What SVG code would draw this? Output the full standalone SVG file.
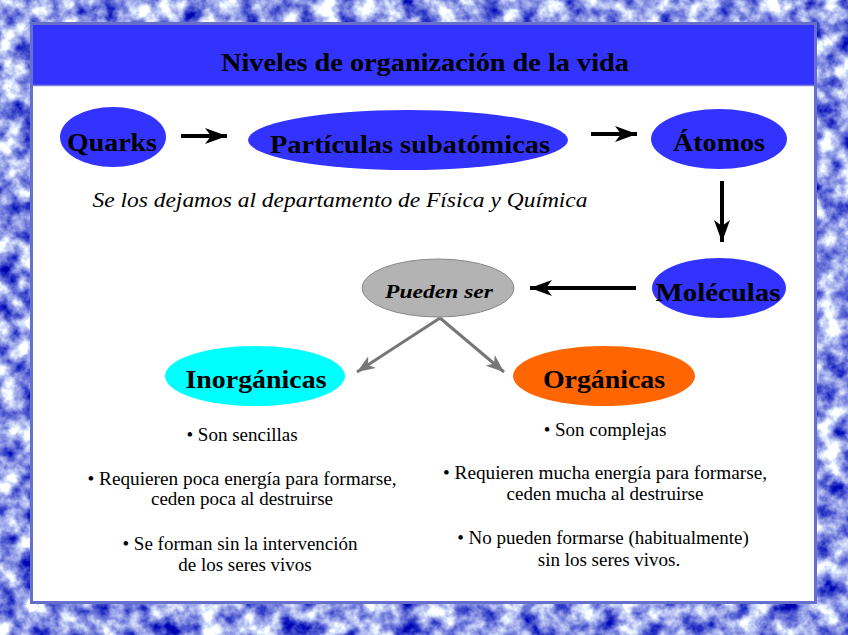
<svg xmlns="http://www.w3.org/2000/svg" width="848" height="635" viewBox="0 0 848 635">
<defs>
<filter id="tex" x="0" y="0" width="100%" height="100%" color-interpolation-filters="sRGB">
<feTurbulence type="fractalNoise" baseFrequency="0.05" numOctaves="4" seed="7"/>
<feColorMatrix type="matrix" values="1.9 0 0 0 -0.38  1.9 0 0 0 -0.34  0.6 0 0 0 0.6  0 0 0 0 1"/>
</filter>
<marker id="ahB" markerUnits="userSpaceOnUse" markerWidth="24" markerHeight="18" refX="22" refY="8" orient="auto">
<path d="M0,0 L22,8 L0,16 L6,8 Z" fill="#000"/>
</marker>
<marker id="ahG" markerUnits="userSpaceOnUse" markerWidth="20" markerHeight="16" refX="18" refY="7" orient="auto">
<path d="M0,0 L18,7 L0,14 L5,7 Z" fill="#777"/>
</marker>
<style>
.lbl{font-family:"Liberation Serif","DejaVu Serif",serif;font-weight:bold;fill:#000;text-anchor:middle}
.body{font-family:"Liberation Serif","Times New Roman",Times,"DejaVu Serif",serif;font-size:19px;fill:#000;text-anchor:middle}
.ital{font-family:"Liberation Serif","Times New Roman",Times,"DejaVu Serif",serif;font-style:italic;font-size:22px;fill:#000;text-anchor:middle}
.blk{stroke:#000;stroke-width:4;fill:none}
.gry{stroke:#777;stroke-width:3;fill:none}
</style>
</defs>
<rect width="848" height="635" fill="#8f97e0"/>
<rect width="848" height="635" filter="url(#tex)"/>
<rect x="31.5" y="23.5" width="784" height="579" fill="#fff" stroke="#6670cc" stroke-width="3"/>
<rect x="33" y="25" width="781" height="60" fill="#3333ff"/>
<line x1="33" y1="85.5" x2="814" y2="85.5" stroke="#7a82e0" stroke-width="1.5"/>
<text x="425" y="71" class="lbl" font-size="25" textLength="408" lengthAdjust="spacingAndGlyphs">Niveles de organización de la vida</text>

<g id="quarks"><ellipse cx="113" cy="137" rx="53" ry="30" fill="#3333ff"/><text x="112" y="151" class="lbl" font-size="25" textLength="90" lengthAdjust="spacingAndGlyphs">Quarks</text></g>
<g id="particulas"><ellipse cx="408" cy="140" rx="160" ry="30" fill="#3333ff"/><text x="410" y="153" class="lbl" font-size="25" textLength="280" lengthAdjust="spacingAndGlyphs">Partículas subatómicas</text></g>
<g id="atomos"><ellipse cx="719" cy="139" rx="68" ry="30" fill="#3333ff"/><text x="719" y="151" class="lbl" font-size="25" textLength="92" lengthAdjust="spacingAndGlyphs">Átomos</text></g>
<g id="moleculas"><ellipse cx="719" cy="288" rx="67" ry="30" fill="#3333ff"/><text x="718" y="301" class="lbl" font-size="25" textLength="125" lengthAdjust="spacingAndGlyphs">Moléculas</text></g>
<g id="pueden"><ellipse cx="438" cy="288" rx="76" ry="29" fill="#b3b3b3" stroke="#888" stroke-width="1"/><text x="439" y="298" class="lbl" font-size="18" font-style="italic" textLength="108" lengthAdjust="spacingAndGlyphs">Pueden ser</text></g>
<g id="inorganicas"><ellipse cx="255" cy="376" rx="90" ry="30" fill="#00ffff"/><text x="256" y="388" class="lbl" font-size="25" textLength="141" lengthAdjust="spacingAndGlyphs">Inorgánicas</text></g>
<g id="organicas"><ellipse cx="604" cy="376" rx="91" ry="30" fill="#ff6600"/><text x="604" y="388" class="lbl" font-size="25" textLength="122" lengthAdjust="spacingAndGlyphs">Orgánicas</text></g>

<g id="connectors">
<line class="blk" x1="181" y1="136" x2="227" y2="136" marker-end="url(#ahB)"/>
<line class="blk" x1="591" y1="134" x2="637" y2="134" marker-end="url(#ahB)"/>
<line class="blk" x1="722" y1="181" x2="722" y2="242" marker-end="url(#ahB)"/>
<line class="blk" x1="636" y1="288" x2="530" y2="288" marker-end="url(#ahB)"/>
<line class="gry" x1="440" y1="318" x2="357" y2="372" marker-end="url(#ahG)"/>
<line class="gry" x1="440" y1="318" x2="504" y2="372" marker-end="url(#ahG)"/>
</g>

<text x="340" y="207" class="ital" textLength="495" lengthAdjust="spacingAndGlyphs">Se los dejamos al departamento de Física y Química</text>

<g id="inorg-text">
<text x="242" y="441" class="body">• Son sencillas</text>
<text x="242" y="485" class="body" textLength="309" lengthAdjust="spacingAndGlyphs">• Requieren poca energía para formarse,</text>
<text x="242" y="505" class="body">ceden poca al destruirse</text>
<text x="240" y="550" class="body">• Se forman sin la intervención</text>
<text x="245" y="571" class="body">de los seres vivos</text>
</g>
<g id="org-text">
<text x="605" y="436" class="body">• Son complejas</text>
<text x="605" y="479" class="body" textLength="324" lengthAdjust="spacingAndGlyphs">• Requieren mucha energía para formarse,</text>
<text x="605" y="500" class="body">ceden mucha al destruirse</text>
<text x="603" y="544" class="body">• No pueden formarse (habitualmente)</text>
<text x="609" y="566" class="body">sin los seres vivos.</text>
</g>
</svg>
